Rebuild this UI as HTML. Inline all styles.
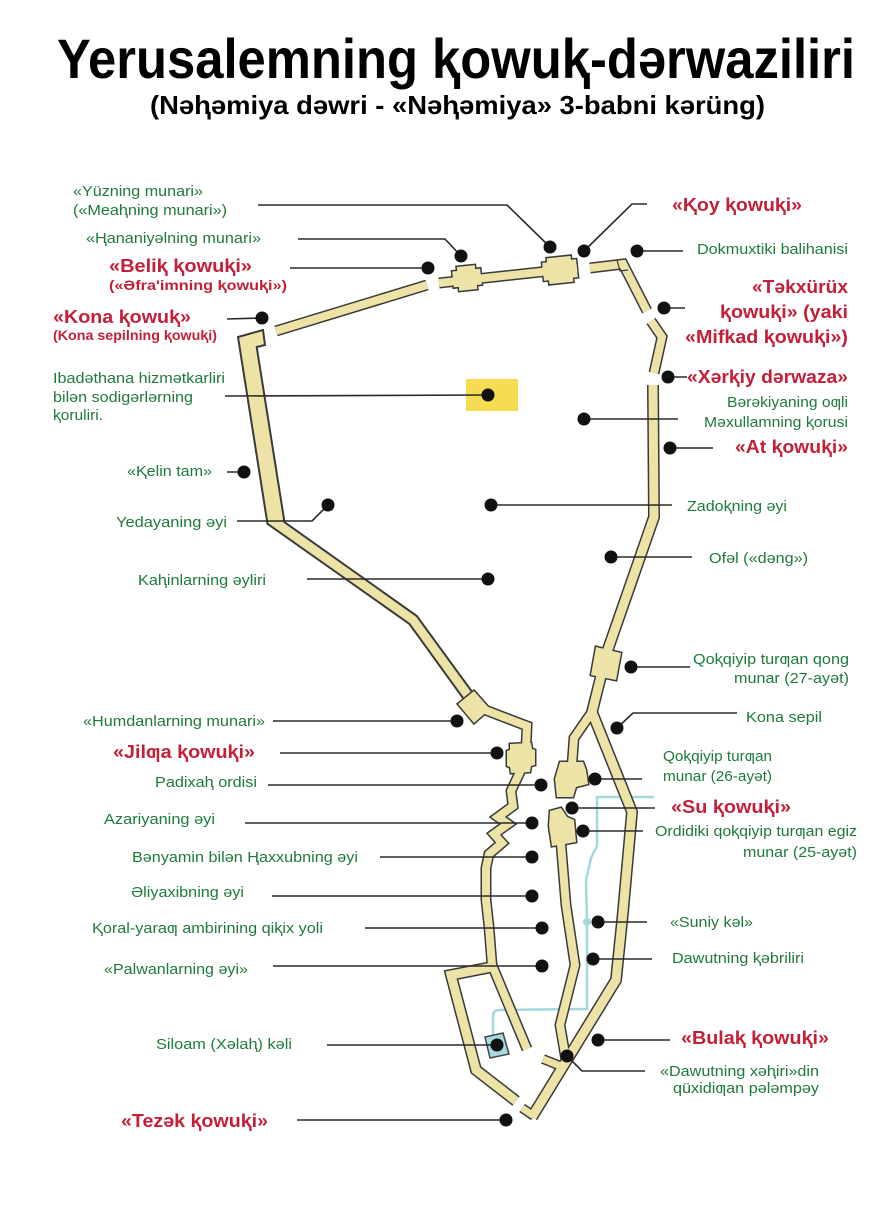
<!DOCTYPE html>
<html>
<head>
<meta charset="utf-8">
<style>
html,body{margin:0;padding:0;background:#fff;}
svg{display:block;}
.g{fill:#1e7a3b;font-family:"Liberation Sans","DejaVu Sans",sans-serif;font-size:15px;}
.r{fill:#c41f38;font-family:"Liberation Sans","DejaVu Sans",sans-serif;font-size:18px;font-weight:bold;}
.rs{fill:#c41f38;font-family:"Liberation Sans","DejaVu Sans",sans-serif;font-size:14px;font-weight:bold;}
.t{fill:#000;font-family:"Liberation Sans","DejaVu Sans",sans-serif;font-weight:bold;}
</style>
</head>
<body>
<svg width="890" height="1210" viewBox="0 0 890 1210" xmlns="http://www.w3.org/2000/svg">
<rect x="0" y="0" width="890" height="1210" fill="#fff"/>

<!-- Title -->
<text class="t" x="57" y="78" font-size="56" textLength="798" lengthAdjust="spacingAndGlyphs">Yerusalemning ⱪowuⱪ-dərwaziliri</text>
<text class="t" x="150" y="114" font-size="26" textLength="615" lengthAdjust="spacingAndGlyphs">(Nəⱨəmiya dəwri - «Nəⱨəmiya» 3-babni kərüng)</text>

<!-- Water channel -->
<path d="M493,1035 L493,1016 Q493,1010 500,1010 L587,1009 L587,922 L586,880 L591,858 L597,846 L597,797 L654,797" fill="none" stroke="#a3d8dd" stroke-width="2.5"/>
<circle cx="587" cy="922" r="4" fill="#a3d8dd"/>

<!-- Walls: dark outline layer -->
<g fill="none" stroke="#3a3a3a" stroke-linejoin="miter" stroke-miterlimit="8">
  <path d="M276,331 L427,285" stroke-width="11"/>
  <path d="M439,283 L577,268" stroke-width="11"/>
  <path d="M590,268 L623,264 L647,311" stroke-width="11"/>
  <path d="M651,321 L662,337 L654,373" stroke-width="11"/>
  <path d="M480,708 L527,726 L526,748" stroke-width="11"/>
  <path d="M521,770 L511,791 L513,806 L498,817 L508,824 L494,834 L502,843 L489,854 L486,868 L486,900 L489,927 L492,965" stroke-width="11"/>
  <path d="M492,965 L527,1049" stroke-width="11"/>
  <path d="M492,967 L451,975 L476,1070 L516,1101" stroke-width="12"/>
  <path d="M653,385 L654,517 L607,652 L600,680 L592,712 L632,812 L623,912 L616,980 L532,1117" stroke-width="12"/>
  <path d="M592,712 L574,738 L572,765" stroke-width="11"/>
  <path d="M561,844 L566,905 L575,965 L560,1025 L566,1060" stroke-width="11"/>
  <path d="M563,1067 L543,1059" stroke-width="10"/>
  <path d="M534,1116 L522,1108" stroke-width="10"/>
</g>

<!-- West wall as polygon -->
<polygon points="238,337 263,330 265,345 256.7,347 284.5,522.2 416.8,616 473.5,693.8 464.6,700.2 409.3,623.8 267.5,523.8" fill="#ede3a6" stroke="#3a3a3a" stroke-width="2" stroke-linejoin="miter"/>

<g fill="#3a3a3a" stroke="#3a3a3a" stroke-width="3" stroke-linejoin="miter">
  <g transform="rotate(-6 467 278)">
    <rect x="453" y="270" width="28" height="16"/>
    <rect x="458" y="266" width="18" height="24"/>
  </g>
  <g transform="rotate(-6 560 270)">
    <rect x="543" y="261" width="34" height="18"/>
    <rect x="548" y="257" width="24" height="26"/>
  </g>
  <polygon points="458,704 474,691 490,709 474,723"/>
  <polygon points="510,744 531,743 532,749 535,750 535,765 531,766 530,772 511,773 510,767 507,766 507,751 510,750"/>
  <polygon points="596,647 621,653 616,680 591,675"/>
  <polygon points="560,762 583,762 586,770 588,784 576,787 573,797 557,797 555,779"/>
  <polygon points="550,811 561,808 567,817 574,820 576,842 565,844 552,846 549,826"/>
</g>

<!-- Walls: beige fill layer -->
<g fill="none" stroke="#ede3a6" stroke-linejoin="miter" stroke-miterlimit="8">
  <path d="M276,331 L427,285" stroke-width="8"/>
  <path d="M439,283 L577,268" stroke-width="8"/>
  <path d="M590,268 L623,264 L647,311" stroke-width="8"/>
  <path d="M651,321 L662,337 L654,373" stroke-width="8"/>
  <path d="M480,708 L527,726 L526,748" stroke-width="8"/>
  <path d="M521,770 L511,791 L513,806 L498,817 L508,824 L494,834 L502,843 L489,854 L486,868 L486,900 L489,927 L492,965" stroke-width="8"/>
  <path d="M492,965 L527,1049" stroke-width="8"/>
  <path d="M492,967 L451,975 L476,1070 L516,1101" stroke-width="9"/>
  <path d="M653,385 L654,517 L607,652 L600,680 L592,712 L632,812 L623,912 L616,980 L532,1117" stroke-width="9"/>
  <path d="M592,712 L574,738 L572,765" stroke-width="8"/>
  <path d="M561,844 L566,905 L575,965 L560,1025 L566,1060" stroke-width="8"/>
  <path d="M563,1067 L543,1059" stroke-width="7"/>
  <path d="M534,1116 L522,1108" stroke-width="7"/>
</g>
<g fill="#ede3a6" stroke="none">
  <g transform="rotate(-6 467 278)">
    <rect x="453" y="270" width="28" height="16"/>
    <rect x="458" y="266" width="18" height="24"/>
  </g>
  <g transform="rotate(-6 560 270)">
    <rect x="543" y="261" width="34" height="18"/>
    <rect x="548" y="257" width="24" height="26"/>
  </g>
  <polygon points="458,704 474,691 490,709 474,723"/>
  <polygon points="510,744 531,743 532,749 535,750 535,765 531,766 530,772 511,773 510,767 507,766 507,751 510,750"/>
  <polygon points="596,647 621,653 616,680 591,675"/>
  <polygon points="560,762 583,762 586,770 588,784 576,787 573,797 557,797 555,779"/>
  <polygon points="550,811 561,808 567,817 574,820 576,842 565,844 552,846 549,826"/>
</g>
<!-- small corner detail -->
<path d="M617,260 L620,271 L628,270" fill="none" stroke="#3a3a3a" stroke-width="1.2"/>

<!-- Pool -->
<polygon points="485,1037 503,1033 509,1054 490,1058" fill="#a5dae0" stroke="#444" stroke-width="1.5"/>

<!-- Yellow area -->
<rect x="466" y="379" width="52" height="32" fill="#f6dc52"/>

<!-- Connector lines -->
<g fill="none" stroke="#2a2a2a" stroke-width="1.6">
  <path d="M258,205 L507,205 L550,247"/>
  <path d="M298,239 L445,239 L461,256"/>
  <path d="M290,268 L428,268"/>
  <path d="M227,319 L262,318"/>
  <path d="M584,251 L632,204 L647,204"/>
  <path d="M637,251 L683,251"/>
  <path d="M664,308 L685,308"/>
  <path d="M668,377 L687,377"/>
  <path d="M225,396 L488,395"/>
  <path d="M584,419 L678,419"/>
  <path d="M670,448 L713,448"/>
  <path d="M227,472 L244,472"/>
  <path d="M237,521 L312,521 L328,505"/>
  <path d="M491,505 L672,505"/>
  <path d="M611,557 L692,557"/>
  <path d="M307,579 L488,579"/>
  <path d="M631,667 L690,667"/>
  <path d="M617,728 L633,713 L737,713"/>
  <path d="M273,721 L457,721"/>
  <path d="M280,753 L497,753"/>
  <path d="M268,785 L541,785"/>
  <path d="M245,823 L532,823"/>
  <path d="M380,857 L532,857"/>
  <path d="M272,896 L532,896"/>
  <path d="M365,928 L542,928"/>
  <path d="M273,966 L542,966"/>
  <path d="M595,779 L642,779"/>
  <path d="M572,808 L655,808"/>
  <path d="M583,831 L643,831"/>
  <path d="M598,922 L647,922"/>
  <path d="M593,959 L652,959"/>
  <path d="M598,1040 L670,1040"/>
  <path d="M567,1056 L582,1071 L645,1071"/>
  <path d="M327,1045 L497,1045"/>
  <path d="M297,1120 L506,1120"/>
</g>

<!-- Dots -->
<g fill="#111">
  <circle cx="550" cy="247" r="6.5"/>
  <circle cx="461" cy="256" r="6.5"/>
  <circle cx="428" cy="268" r="6.5"/>
  <circle cx="262" cy="318" r="6.5"/>
  <circle cx="584" cy="251" r="6.5"/>
  <circle cx="637" cy="251" r="6.5"/>
  <circle cx="664" cy="308" r="6.5"/>
  <circle cx="668" cy="377" r="6.5"/>
  <circle cx="488" cy="395" r="6.5"/>
  <circle cx="584" cy="419" r="6.5"/>
  <circle cx="670" cy="448" r="6.5"/>
  <circle cx="244" cy="472" r="6.5"/>
  <circle cx="328" cy="505" r="6.5"/>
  <circle cx="491" cy="505" r="6.5"/>
  <circle cx="611" cy="557" r="6.5"/>
  <circle cx="488" cy="579" r="6.5"/>
  <circle cx="631" cy="667" r="6.5"/>
  <circle cx="617" cy="728" r="6.5"/>
  <circle cx="457" cy="721" r="6.5"/>
  <circle cx="497" cy="753" r="6.5"/>
  <circle cx="541" cy="785" r="6.5"/>
  <circle cx="532" cy="823" r="6.5"/>
  <circle cx="532" cy="857" r="6.5"/>
  <circle cx="532" cy="896" r="6.5"/>
  <circle cx="542" cy="928" r="6.5"/>
  <circle cx="542" cy="966" r="6.5"/>
  <circle cx="595" cy="779" r="6.5"/>
  <circle cx="572" cy="808" r="6.5"/>
  <circle cx="583" cy="831" r="6.5"/>
  <circle cx="598" cy="922" r="6.5"/>
  <circle cx="593" cy="959" r="6.5"/>
  <circle cx="598" cy="1040" r="6.5"/>
  <circle cx="567" cy="1056" r="6.5"/>
  <circle cx="497" cy="1045" r="6.5"/>
  <circle cx="506" cy="1120" r="6.5"/>
</g>

<!-- Green labels -->
<g class="g">
  <text x="73" y="196" textLength="130" lengthAdjust="spacingAndGlyphs">«Yüzning munari»</text>
  <text x="73" y="215" textLength="154" lengthAdjust="spacingAndGlyphs">(«Meaⱨning munari»)</text>
  <text x="86" y="243" textLength="175" lengthAdjust="spacingAndGlyphs">«Ⱨananiyəlning munari»</text>
  <text x="53" y="383" textLength="172" lengthAdjust="spacingAndGlyphs">Ibadəthana hizmətkarliri</text>
  <text x="53" y="402" textLength="140" lengthAdjust="spacingAndGlyphs">bilən sodigərlərning</text>
  <text x="53" y="420" textLength="50" lengthAdjust="spacingAndGlyphs">ⱪoruliri.</text>
  <text x="697" y="254" textLength="151" lengthAdjust="spacingAndGlyphs">Dokmuxtiki balihanisi</text>
  <text x="727" y="407" textLength="121" lengthAdjust="spacingAndGlyphs">Bərəkiyaning oƣli</text>
  <text x="704" y="427" textLength="144" lengthAdjust="spacingAndGlyphs">Məxullamning ⱪorusi</text>
  <text x="127" y="476" textLength="85" lengthAdjust="spacingAndGlyphs">«Ⱪelin tam»</text>
  <text x="116" y="527" textLength="111" lengthAdjust="spacingAndGlyphs">Yedayaning əyi</text>
  <text x="687" y="511" textLength="100" lengthAdjust="spacingAndGlyphs">Zadoⱪning əyi</text>
  <text x="709" y="563" textLength="99" lengthAdjust="spacingAndGlyphs">Ofəl («dəng»)</text>
  <text x="138" y="585" textLength="128" lengthAdjust="spacingAndGlyphs">Kaⱨinlarning əyliri</text>
  <text x="693" y="664" textLength="156" lengthAdjust="spacingAndGlyphs">Qoⱪqiyip turƣan qong</text>
  <text x="734" y="683" textLength="115" lengthAdjust="spacingAndGlyphs">munar (27-ayət)</text>
  <text x="746" y="722" textLength="76" lengthAdjust="spacingAndGlyphs">Kona sepil</text>
  <text x="83" y="726" textLength="182" lengthAdjust="spacingAndGlyphs">«Humdanlarning munari»</text>
  <text x="155" y="787" textLength="102" lengthAdjust="spacingAndGlyphs">Padixaⱨ ordisi</text>
  <text x="663" y="761" textLength="109" lengthAdjust="spacingAndGlyphs">Qoⱪqiyip turƣan</text>
  <text x="663" y="781" textLength="109" lengthAdjust="spacingAndGlyphs">munar (26-ayət)</text>
  <text x="104" y="824" textLength="111" lengthAdjust="spacingAndGlyphs">Azariyaning əyi</text>
  <text x="655" y="836" textLength="202" lengthAdjust="spacingAndGlyphs">Ordidiki qoⱪqiyip turƣan egiz</text>
  <text x="743" y="857" textLength="114" lengthAdjust="spacingAndGlyphs">munar (25-ayət)</text>
  <text x="132" y="862" textLength="226" lengthAdjust="spacingAndGlyphs">Bənyamin bilən Ⱨaxxubning əyi</text>
  <text x="131" y="897" textLength="113" lengthAdjust="spacingAndGlyphs">Əliyaxibning əyi</text>
  <text x="670" y="927" textLength="83" lengthAdjust="spacingAndGlyphs">«Suniy kəl»</text>
  <text x="92" y="933" textLength="231" lengthAdjust="spacingAndGlyphs">Ⱪoral-yaraƣ ambirining qiⱪix yoli</text>
  <text x="672" y="963" textLength="132" lengthAdjust="spacingAndGlyphs">Dawutning ⱪəbriliri</text>
  <text x="104" y="974" textLength="144" lengthAdjust="spacingAndGlyphs">«Palwanlarning əyi»</text>
  <text x="156" y="1049" textLength="136" lengthAdjust="spacingAndGlyphs">Siloam (Xəlaⱨ) kəli</text>
  <text x="660" y="1076" textLength="159" lengthAdjust="spacingAndGlyphs">«Dawutning xəⱨiri»din</text>
  <text x="673" y="1093" textLength="146" lengthAdjust="spacingAndGlyphs">qüxidiƣan pələmpəy</text>
</g>

<!-- Red labels -->
<g class="r">
  <text x="109" y="272" textLength="143" lengthAdjust="spacingAndGlyphs">«Beliⱪ ⱪowuⱪi»</text>
  <text x="53" y="323" textLength="138" lengthAdjust="spacingAndGlyphs">«Kona ⱪowuⱪ»</text>
  <text x="672" y="211" textLength="130" lengthAdjust="spacingAndGlyphs">«Ⱪoy ⱪowuⱪi»</text>
  <text x="752" y="293" textLength="96" lengthAdjust="spacingAndGlyphs">«Təkxürüx</text>
  <text x="720" y="318" textLength="128" lengthAdjust="spacingAndGlyphs">ⱪowuⱪi» (yaki</text>
  <text x="685" y="343" textLength="163" lengthAdjust="spacingAndGlyphs">«Mifkad ⱪowuⱪi»)</text>
  <text x="687" y="383" textLength="161" lengthAdjust="spacingAndGlyphs">«Xərⱪiy dərwaza»</text>
  <text x="735" y="453" textLength="113" lengthAdjust="spacingAndGlyphs">«At ⱪowuⱪi»</text>
  <text x="113" y="758" textLength="142" lengthAdjust="spacingAndGlyphs">«Jilƣa ⱪowuⱪi»</text>
  <text x="671" y="813" textLength="120" lengthAdjust="spacingAndGlyphs">«Su ⱪowuⱪi»</text>
  <text x="681" y="1044" textLength="148" lengthAdjust="spacingAndGlyphs">«Bulaⱪ ⱪowuⱪi»</text>
  <text x="121" y="1127" textLength="147" lengthAdjust="spacingAndGlyphs">«Tezək ⱪowuⱪi»</text>
</g>
<g class="rs">
  <text x="109" y="290" textLength="178" lengthAdjust="spacingAndGlyphs">(«Əfra'imning ⱪowuⱪi»)</text>
  <text x="53" y="340" textLength="164" lengthAdjust="spacingAndGlyphs">(Kona sepilning ⱪowuⱪi)</text>
</g>
</svg>
</body>
</html>
